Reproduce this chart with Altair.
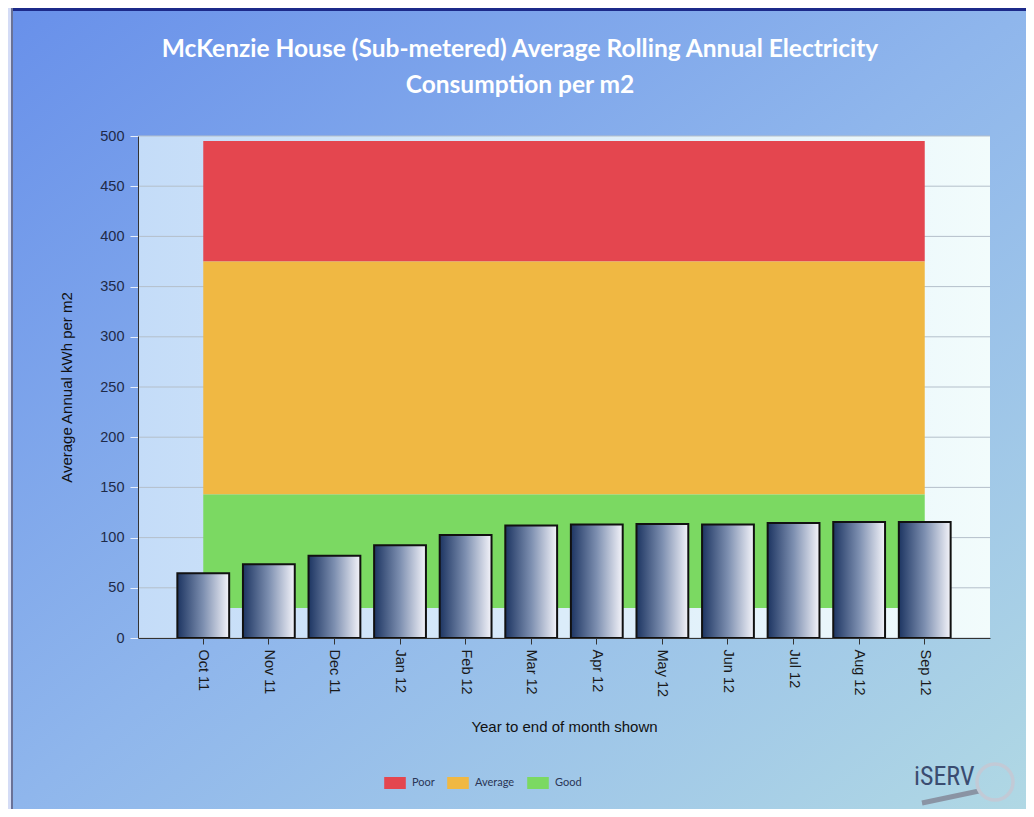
import altair as alt
import pandas as pd

# ---- data ----
MONTHS = ["Oct 11", "Nov 11", "Dec 11", "Jan 12", "Feb 12", "Mar 12",
          "Apr 12", "May 12", "Jun 12", "Jul 12", "Aug 12", "Sep 12"]
VALUES = [64.5, 73.5, 82, 92.5, 102.5, 112, 113, 113.5, 113, 114.5, 115.5, 115.5]

RATINGS = ["Poor", "Average", "Good"]
BAND_LO = [375, 143, 30]
BAND_HI = [495, 375, 143]
BAND_COLORS = ["#e4464f", "#f0b843", "#7bd962"]

Y_TICKS = [0, 50, 100, 150, 200, 250, 300, 350, 400, 450, 500]

TITLE = ["McKenzie House (Sub-metered) Average Rolling Annual Electricity",
         "Consumption per m2"]

bars_df = pd.DataFrame({"month": MONTHS, "value": VALUES})
band_df = pd.DataFrame({"rating": RATINGS, "lo": BAND_LO, "hi": BAND_HI,
                        "start": [MONTHS[0]] * 3, "end": [MONTHS[-1]] * 3})
grid_df = pd.DataFrame({"tick": Y_TICKS})

W, H = 852, 502
PAD = {"left": 130, "top": 128, "right": 36, "bottom": 171}

xscale = alt.Scale(domain=MONTHS, paddingInner=0.21, paddingOuter=0.6)
yscale = alt.Scale(domain=[0, 500], nice=False)

XTITLE = "Year to end of month shown"
YTITLE = "Average Annual kWh per m2"

one = alt.Data(values=[{"a": 1}])

# outer chart background (gradient)
outer_bg = alt.Chart(one).mark_rect(
    fill=alt.Gradient(gradient="linear",
                      stops=[alt.GradientStop(color="#6890ea", offset=0),
                             alt.GradientStop(color="#8fb6ec", offset=0.5),
                             alt.GradientStop(color="#b0d8e4", offset=1)],
                      x1=0, y1=0, x2=1, y2=1)
).encode(x=alt.value(-126), x2=alt.value(W + PAD["right"]),
         y=alt.value(-PAD["top"]), y2=alt.value(H + PAD["bottom"]))

top_border = alt.Chart(one).mark_rule(color="#1c2a8a", strokeWidth=4).encode(
    x=alt.value(-126), x2=alt.value(W + PAD["right"]), y=alt.value(-PAD["top"] + 1))
left_border = alt.Chart(one).mark_rule(color="#6a7296", strokeWidth=2).encode(
    x=alt.value(-126), y=alt.value(-PAD["top"]), y2=alt.value(H + PAD["bottom"]))

# plot-area background (gradient)
plot_bg = alt.Chart(one).mark_rect(
    fill=alt.Gradient(gradient="linear",
                      stops=[alt.GradientStop(color="#c4dcf8", offset=0),
                             alt.GradientStop(color="#f2fcfc", offset=1)],
                      x1=0, y1=0, x2=1, y2=0)
).encode(x=alt.value(0), x2=alt.value(W), y=alt.value(0), y2=alt.value(H))

grid = alt.Chart(grid_df).mark_rule(color="#b4bfca", strokeWidth=1).encode(
    y=alt.Y("tick:Q", scale=yscale, title=YTITLE)
)

bands = alt.Chart(band_df).mark_rect().encode(
    x=alt.X("start:N", scale=xscale, bandPosition=0.5, title=XTITLE),
    x2=alt.X2("end:N", bandPosition=0.5),
    y=alt.Y("lo:Q", scale=yscale, title=YTITLE),
    y2="hi:Q",
    color=alt.Color("rating:N",
                    scale=alt.Scale(domain=RATINGS, range=BAND_COLORS),
                    legend=alt.Legend(orient="none", direction="horizontal",
                                      title=None, legendX=251, legendY=641,
                                      symbolType="M-1.8,-1H1.8V1H-1.8Z",
                                      symbolSize=144, symbolStrokeWidth=0,
                                      symbolOpacity=1,
                                      labelOffset=11, columnPadding=12,
                                      labelFont="Lato", labelFontSize=11,
                                      labelColor="#2a3656")),
)

bars = alt.Chart(bars_df).mark_bar(
    stroke="#111111", strokeWidth=2,
    fill=alt.Gradient(gradient="linear",
                      stops=[alt.GradientStop(color="#1d3562", offset=0),
                             alt.GradientStop(color="#7d8fb0", offset=0.5),
                             alt.GradientStop(color="#f4f4fa", offset=1)],
                      x1=0, y1=0, x2=1, y2=0)
).encode(
    x=alt.X("month:N", scale=xscale, title=XTITLE,
            axis=alt.Axis(labelAngle=90, labelAlign="left", labelBaseline="middle",
                          labelPadding=5, tickSize=6, tickColor="#333333",
                          domainColor="#333333", labelColor="#1a1a1a",
                          titlePadding=23, zindex=1)),
    y=alt.Y("value:Q", scale=yscale, title=YTITLE,
            axis=alt.Axis(values=Y_TICKS, tickSize=8, tickColor="#e6eefa",
                          labelPadding=6, domainColor="#333333",
                          labelColor="#1e2a48", titlePadding=25, zindex=1)),
)

logo = alt.Chart(one).mark_text(
    text="iSERV", font="Roboto Condensed, Liberation Sans Narrow, Liberation Sans",
    fontSize=26, color="#3a4c70", align="left", baseline="middle"
).encode(x=alt.value(776), y=alt.value(641))
logo_ring = alt.Chart(one).mark_point(
    shape="circle", size=1296, stroke="#c2cad6", strokeWidth=3.5, filled=False, opacity=1
).encode(x=alt.value(857), y=alt.value(646))
logo_handle = alt.Chart(one).mark_rule(color="#8a94a4", strokeWidth=5).encode(
    x=alt.value(784), x2=alt.value(841), y=alt.value(667), y2=alt.value(655))

chart = alt.layer(
    outer_bg, top_border, left_border, plot_bg, grid, bands, bars,
    logo_handle, logo_ring, logo
).properties(
    width=W, height=H,
    padding=PAD,
    autosize=alt.AutoSizeParams(type="none"),
    background="#d4dcf6",
    title=alt.TitleParams(text=TITLE, font="Lato", fontSize=24.5, fontWeight="bold",
                          color="white", anchor="middle", frame="group",
                          dx=-44, offset=-91, lineHeight=36),
).configure_view(
    stroke="#4a5670", strokeWidth=1.5
).configure_axis(
    grid=False, labelFont="Liberation Sans", labelFontSize=14.5,
    titleFont="Liberation Sans", titleFontSize=15, titleFontWeight="normal",
    titleColor="#111111"
)

chart.save("out.html", embed_options={"renderer": "svg", "actions": False})
